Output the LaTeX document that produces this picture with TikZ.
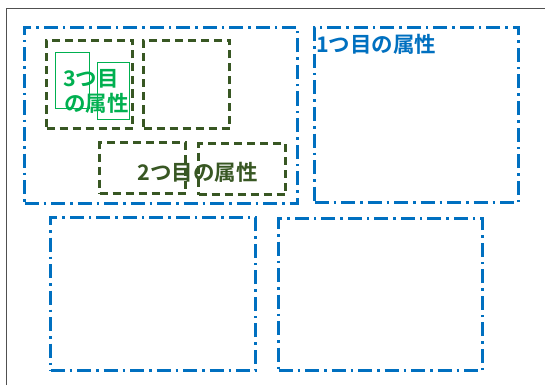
\documentclass[tikz,border=0pt]{standalone}
\usepackage{fontspec}
\newfontfamily\jpfont{Noto Sans CJK JP}[BoldFont={* Bold}]
\definecolor{bl}{HTML}{0070C0}
\definecolor{dg}{HTML}{385723}
\definecolor{lg}{HTML}{00B050}
\definecolor{fr}{HTML}{505050}
\begin{document}
\begin{tikzpicture}[x=1pt,y=-1pt,
  bluebox/.style={draw=bl, line width=3pt, dash pattern=on 14pt off 5pt on 2.5pt off 5pt, inner sep=0pt},
  greenbox/.style={draw=dg, line width=3pt, dash pattern=on 8pt off 5pt, inner sep=0pt, minimum width=86pt},
  thinbox/.style={draw=lg, line width=1pt, inner sep=0pt},
  lbl/.style={font=\jpfont\bfseries\fontsize{21.5}{23}\selectfont, inner sep=0pt}]
\useasboundingbox (0,0) rectangle (545,385);
\fill[white] (0,0) rectangle (545,385);
\coordinate (fbl) at (6.5,385);
\coordinate (ftl) at (6.5,8.5);
\coordinate (ftr) at (545,8.5);
\draw[fr, line width=1pt] (fbl) -- (ftl) -- (ftr);
% blue dash-dot boxes
\node[bluebox, minimum width=273pt, minimum height=176pt] (A) at (161,115.5) {};
\node[bluebox, minimum width=204pt, minimum height=175pt] (B) at (416.5,115) {};
\node[bluebox, minimum width=205pt, minimum height=153pt] (C) at (153,294) {};
\node[bluebox, minimum width=204pt, minimum height=152pt, line width=2.6pt] (D) at (380.5,294.5) {};
% dark green dashed boxes
\node[greenbox, minimum height=88pt] (G1) at (89.5,84.5) {};
\node[greenbox, minimum height=88pt] (G2) at (186.5,84.5) {};
\node[greenbox, minimum height=51pt] (G3) at (142.5,168) {};
\node[greenbox, minimum height=51pt, minimum width=87pt] (G4) at (242,169) {};
% thin light green boxes
\node[thinbox, minimum width=34pt, minimum height=55pt] (L1) at (72,80.5) {};
\node[thinbox, minimum width=32pt, minimum height=56pt] (L2) at (113,91) {};
% labels
\node[lbl, text=bl, anchor=west] (t1) at (316,44) {1つ目の属性};
\node[lbl, text=dg] (t2) at (197.5,172.5) {2つ目の属性};
\node[lbl, text=lg, anchor=west] (t3a) at (63,79) {3つ目};
\node[lbl, text=lg, anchor=west] (t3b) at (64,103) {の属性};
\end{tikzpicture}
\end{document}
